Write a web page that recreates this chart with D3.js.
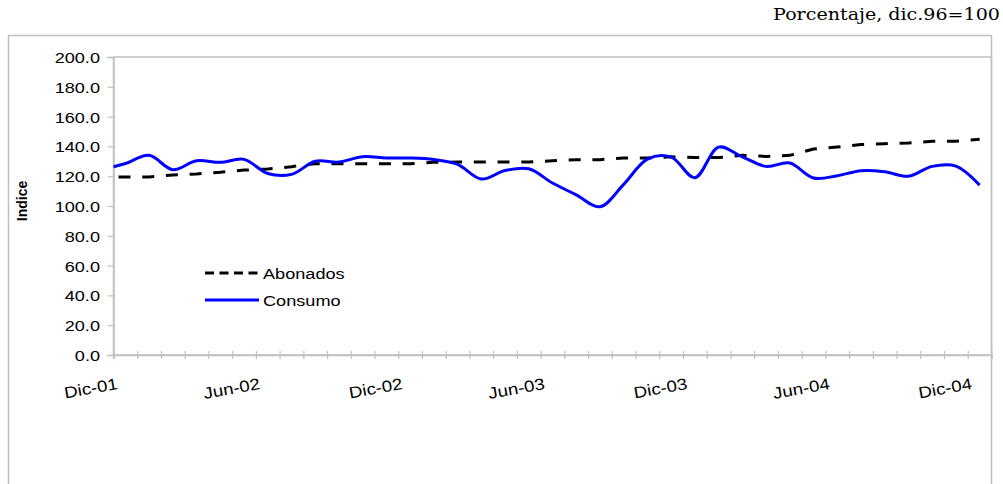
<!DOCTYPE html>
<html><head><meta charset="utf-8">
<script src="https://cdn.jsdelivr.net/npm/d3@7"></script>
<style>
html,body{margin:0;padding:0;background:#fff;}
svg{display:block;}
</style></head>
<body>
<svg id="chart" width="1003" height="484"></svg>
<script>
// ---- data ----
const tickLabels = ["Dic-01","Jun-02","Dic-02","Jun-03","Dic-03","Jun-04","Dic-04"];
const yTicks = [0,20,40,60,80,100,120,140,160,180,200];
// positions in months from Dic-01 (first point at the start, then mid-month)
const monthPos = [0,0.5,1.5,2.5,3.5,4.5,5.5,6.5,7.5,8.5,9.5,10.5,11.5,12.5,13.5,14.5,15.5,16.5,17.5,18.5,19.5,20.5,21.5,22.5,23.5,24.5,25.5,26.5,27.5,28.5,29.5,30.5,31.5,32.5,33.5,34.5,35.5,36.5];
const abonados = [119.5,119.5,119.5,120.8,121.5,122.6,124.1,124.8,126.4,128.4,128.4,128.4,128.4,128.4,129.3,129.5,129.5,129.5,129.5,130.4,131.1,131.1,132.2,132.2,133.0,132.5,132.5,134.0,133.3,134.0,138.3,139.6,141.2,141.8,142.3,143.4,143.4,144.8];
const consumo = [126.3,128.5,134.0,124.4,130.4,129.3,131.3,121.8,121.2,130.0,129.5,133.1,132.2,132.2,131.2,128.0,118.1,123.8,125.0,115.4,107.5,99.5,114.5,131.5,132.8,119.0,139.5,133.0,126.6,128.8,118.8,120.3,123.7,123.0,120.0,126.6,126.8,114.0];
const seriesNames = ["Abonados","Consumo"];
const title = "Porcentaje, dic.96=100";
const yTitle = "Indice";

// ---- layout ----
const svg = d3.select("#chart");
const L = 113.5, R = 991.5, T = 57, B = 355;
const SX = 1.17; // horizontal text stretch
const FONT = "'Liberation Sans', Arial, sans-serif";
const GRAY = "#c0c0c0";

const x = d3.scaleLinear().domain([0,37]).range([L,R]);
const y = d3.scaleLinear().domain([0,200]).range([B,T]);

// outer frame
svg.append("rect").attr("x",8.5).attr("y",35.5).attr("width",983).attr("height",470)
  .attr("fill","none").attr("stroke",GRAY).attr("stroke-width",1.5);

// title
const tt = svg.append("text").attr("x",1000).attr("y",20).attr("text-anchor","end")
  .attr("font-family","'DejaVu Serif', serif").attr("font-size",17.5).attr("fill","#000").text(title);
{
  const w = tt.node().getComputedTextLength();
  const s = 227 / w;
  tt.attr("transform",`translate(1000,0) scale(${s},1) translate(-1000,0)`);
}

// plot area border
svg.append("rect").attr("x",L).attr("y",T).attr("width",R-L).attr("height",B-T)
  .attr("fill","none").attr("stroke",GRAY).attr("stroke-width",1.5);

// y axis
const yAxis = d3.axisLeft(y).tickValues(yTicks).tickSize(6).tickFormat(d3.format(".1f"));
const gy = svg.append("g").attr("transform",`translate(${L},0)`).call(yAxis);
gy.select(".domain").attr("stroke",GRAY).attr("stroke-width",1.5);
gy.selectAll(".tick line").attr("stroke",GRAY).attr("stroke-width",1.2);
gy.selectAll(".tick text").remove();
gy.selectAll(".tick").append("g")
  .attr("transform","translate(-13.5,0)")
  .append("text").attr("transform",`scale(${SX},1)`)
  .attr("text-anchor","end").attr("dy","0.36em")
  .attr("font-family",FONT).attr("font-size",15.5).attr("fill","#000")
  .text(d=>d3.format(".1f")(d));

// x axis (monthly ticks crossing the axis)
const months = d3.range(0,38);
const xAxis = d3.axisBottom(x).tickValues(months).tickSize(4).tickFormat("");
const gx = svg.append("g").attr("transform",`translate(0,${B})`).call(xAxis);
gx.select(".domain").attr("stroke",GRAY).attr("stroke-width",1.5);
gx.selectAll(".tick line").attr("stroke",GRAY).attr("stroke-width",1.2).attr("y1",-4);
gx.selectAll(".tick text").remove();
tickLabels.forEach((lab,i)=>{
  svg.append("g").attr("transform",`translate(${x(i*6)+5},${389}) rotate(-10)`)
    .append("text").attr("transform",`scale(${SX},1)`).attr("text-anchor","end")
    .attr("font-family",FONT).attr("font-size",16).attr("fill","#000").text(lab);
});

// y title
svg.append("text").attr("transform","translate(27,201) rotate(-90)")
  .attr("text-anchor","middle").attr("font-family",FONT).attr("font-weight","bold")
  .attr("font-size",14).attr("fill","#000").text(yTitle);

// lines
const lineAb = d3.line().x((d,i)=>x(monthPos[i])).y(d=>y(d));
const lineCo = d3.line().x((d,i)=>x(monthPos[i])).y(d=>y(d)).curve(d3.curveCatmullRom.alpha(0.5));
const monthW = x(1)-x(0);
svg.append("path").datum(abonados).attr("d",lineAb).attr("fill","none")
  .attr("stroke","#000").attr("stroke-width",3)
  .attr("stroke-dasharray",`12,${monthW-12}`).attr("stroke-dashoffset",monthW-5);
svg.append("path").datum(consumo).attr("d",lineCo).attr("fill","none")
  .attr("stroke","#0000ff").attr("stroke-width",3).attr("stroke-linejoin","round");

// legend
const leg = [{name:seriesNames[0],y:273,dash:"9,5.5",color:"#000"},{name:seriesNames[1],y:300,dash:null,color:"#0000ff"}];
leg.forEach(l=>{
  svg.append("line").attr("x1",205).attr("x2",259).attr("y1",l.y).attr("y2",l.y)
    .attr("stroke",l.color).attr("stroke-width",3).attr("stroke-dasharray",l.dash);
  svg.append("g").attr("transform",`translate(263,${l.y})`)
    .append("text").attr("transform",`scale(${SX},1)`).attr("dy","0.36em")
    .attr("font-family",FONT).attr("font-size",15.5).attr("fill","#000").text(l.name);
});
</script>
</body></html>
